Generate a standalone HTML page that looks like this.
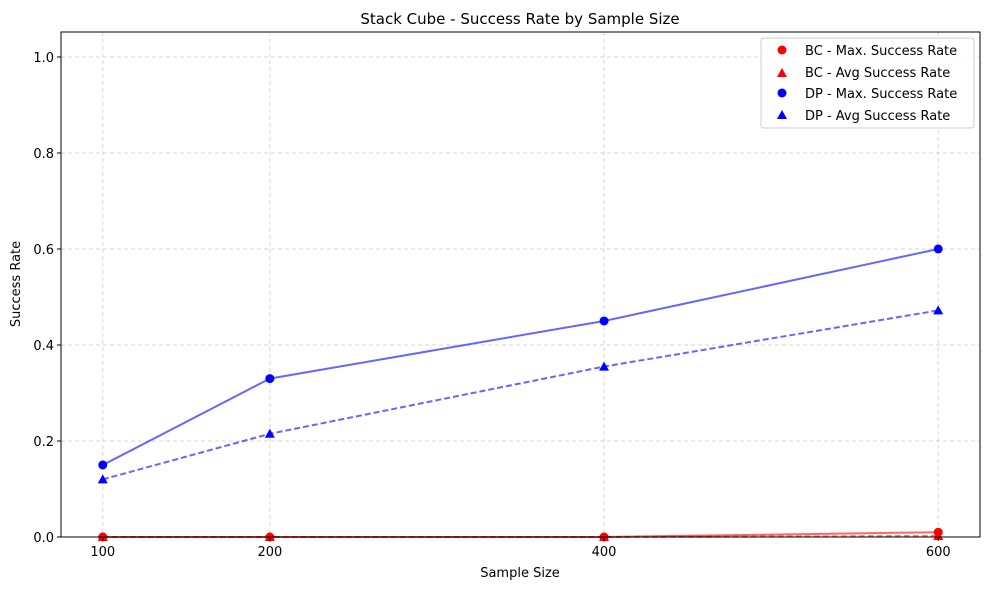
<!DOCTYPE html>
<html><head><meta charset="utf-8"><style>
body{margin:0;background:#fff;font-family:"Liberation Sans","DejaVu Sans",sans-serif;}
svg text{font-family:"DejaVu Sans","Liberation Sans",sans-serif;}
</style></head><body>
<svg id="chart" width="989" height="590" viewBox="0 0 989 590" xmlns="http://www.w3.org/2000/svg">
<rect width="989" height="590" fill="#fff"/>
<text x="520" y="24" text-anchor="middle" font-size="15">Stack Cube - Success Rate by Sample Size</text>
<g id="grid"></g>
<g id="series"></g>
<rect x="61" y="32" width="919" height="505" fill="none" stroke="#000" stroke-width="1"/>
<g id="axes"></g>
<text x="520" y="577" text-anchor="middle" font-size="13">Sample Size</text>
<text transform="translate(20,284) rotate(-90)" text-anchor="middle" font-size="13">Success Rate</text>
<g id="legend">
<rect x="761" y="38" width="213" height="90" rx="3" fill="#fff" fill-opacity="0.85" stroke="#ccc"/>
<circle cx="782" cy="50" r="4.5" fill="red"/>
<text x="805" y="55" font-size="13">BC - Max. Success Rate</text>
<polygon points="782,68 787,77 777,77" fill="red"/>
<text x="805" y="77" font-size="13">BC - Avg Success Rate</text>
<circle cx="782" cy="93" r="4.5" fill="blue"/>
<text x="805" y="98" font-size="13">DP - Max. Success Rate</text>
<polygon points="782,110 787,119 777,119" fill="blue"/>
<text x="805" y="120" font-size="13">DP - Avg Success Rate</text>
</g>
</svg>
<script>
const sampleSizes = [100, 200, 400, 600];
const bcMax = [0, 0, 0, 0.01];
const bcAvg = [0, 0, 0, 0.002];
const dpMax = [0.15, 0.33, 0.45, 0.60];
const dpAvg = [0.12, 0.215, 0.355, 0.472];
const xTicks = [100, 200, 400, 600];
const yTicks = [0, 0.2, 0.4, 0.6, 0.8, 1.0];

const NS = "http://www.w3.org/2000/svg";
const L = 61, R = 980, T = 32, B = 537;
const xMin = 75, xMax = 625, yMin = 0, yMax = 1.052;
const xs = v => L + (v - xMin) / (xMax - xMin) * (R - L);
const ys = v => B - (v - yMin) / (yMax - yMin) * (B - T);
function mk(tag, attrs, parent) { const e = document.createElementNS(NS, tag); for (const k in attrs) e.setAttribute(k, attrs[k]); parent.appendChild(e); return e; }
const grid = document.getElementById('grid'), axes = document.getElementById('axes'), ser = document.getElementById('series');
xTicks.forEach(t => {
  const g = mk('line', {x1: xs(t), x2: xs(t), y1: T, y2: B, stroke: '#b0b0b0', 'stroke-dasharray': '4,3', 'stroke-opacity': 0.5}, grid);
  
  
  mk('line', {x1: xs(t), x2: xs(t), y1: B, y2: B + 4, stroke: '#000'}, axes);
  const tx = mk('text', {x: xs(t), y: B + 19, 'text-anchor': 'middle', 'font-size': 13}, axes);
  tx.textContent = t;
  
  
});
yTicks.forEach(t => {
  const g = mk('line', {x1: L, x2: R, y1: ys(t), y2: ys(t), stroke: '#b0b0b0', 'stroke-dasharray': '4,3', 'stroke-opacity': 0.5}, grid);
  
  
  mk('line', {x1: L - 4, x2: L, y1: ys(t), y2: ys(t), stroke: '#000'}, axes);
  const tx = mk('text', {x: L - 7, y: ys(t) + 5, 'text-anchor': 'end', 'font-size': 13}, axes);
  tx.textContent = t.toFixed(1);
  
  
});
function drawSeries(vals, color, dashed, marker, name) {
  const pts = vals.map((v, i) => xs(sampleSizes[i]) + ',' + ys(v)).join(' ');
  const pl = mk('polyline', {points: pts, fill: 'none', stroke: color, 'stroke-opacity': 0.6, 'stroke-width': 2, 'stroke-dasharray': dashed ? '6,3' : 'none'}, ser);
  
  
  vals.forEach((v, i) => {
    const x = xs(sampleSizes[i]), y = ys(v);
    let m;
    if (marker === 'o') m = mk('circle', {cx: x, cy: y, r: 4.5, fill: color}, ser);
    else m = mk('polygon', {points: `${x},${y - 5} ${x + 5},${y + 4} ${x - 5},${y + 4}`, fill: color}, ser);
    
    
  });
}
drawSeries(bcAvg, 'red', true, '^', 'bc-avg');
drawSeries(bcMax, 'red', false, 'o', 'bc-max');
drawSeries(dpAvg, 'blue', true, '^', 'dp-avg');
drawSeries(dpMax, 'blue', false, 'o', 'dp-max');
</script>
</body></html>
